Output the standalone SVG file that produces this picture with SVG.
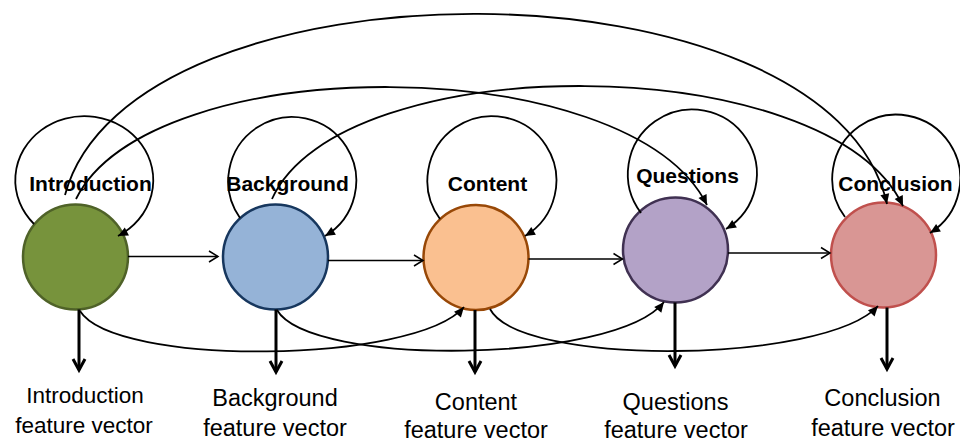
<svg xmlns="http://www.w3.org/2000/svg" width="960" height="443" viewBox="0 0 960 443">
<defs>
<style>
.node{stroke-width:2.5}
.lbl{font-family:"Liberation Sans",Arial,sans-serif;font-weight:bold;font-size:21px;text-anchor:middle;fill:#000}
.out{font-family:"Liberation Sans",Arial,sans-serif;font-size:23.5px;text-anchor:middle;fill:#000}
.c{fill:none;stroke:#000;stroke-width:1.8}
.h{fill:none;stroke:#000;stroke-width:1.5}
.v{fill:none;stroke:#000;stroke-width:3}
</style>
<marker id="tri" markerUnits="userSpaceOnUse" markerWidth="12" markerHeight="12" refX="10" refY="5" orient="auto" overflow="visible">
<path d="M0,0.5 L10,5 L0,9.5 z" fill="#000"/>
</marker>
<marker id="chev" markerUnits="userSpaceOnUse" markerWidth="14" markerHeight="14" refX="10" refY="6" orient="auto" overflow="visible">
<path d="M1,0.5 L10,6 L1,11.5" fill="none" stroke="#000" stroke-width="1.5"/>
</marker>
<marker id="chevT" markerUnits="userSpaceOnUse" markerWidth="16" markerHeight="16" refX="11" refY="7" orient="auto" overflow="visible">
<path d="M0,1 L11,7 L0,13" fill="none" stroke="#000" stroke-width="3"/>
</marker>
</defs>
<rect width="960" height="443" fill="#fff"/>

<g id="introduction">
<circle class="node" cx="75.5" cy="257" r="52.5" fill="#77933C" stroke="#4F6228"/>
<text class="lbl" x="90.5" y="191">Introduction</text>
</g>
<g id="background">
<circle class="node" cx="275.5" cy="257" r="52.5" fill="#95B3D7" stroke="#17375E"/>
<text class="lbl" x="287.5" y="191">Background</text>
</g>
<g id="content">
<circle class="node" cx="476" cy="257.5" r="52.5" fill="#FAC090" stroke="#984807"/>
<text class="lbl" x="487.5" y="191">Content</text>
</g>
<g id="questions">
<circle class="node" cx="675.5" cy="250" r="52.5" fill="#B3A2C7" stroke="#403152"/>
<text class="lbl" x="687.5" y="183">Questions</text>
</g>
<g id="conclusion">
<circle class="node" cx="883.5" cy="255" r="52.5" fill="#D99694" stroke="#C0504D"/>
<text class="lbl" x="895.5" y="191">Conclusion</text>
</g>

<g id="introduction-fv"><text class="out" x="85" y="403" style="font-size:22.5px">Introduction</text><text class="out" x="84" y="433" style="font-size:22.5px">feature vector</text></g>
<g id="background-fv"><text class="out" x="275" y="406">Background</text><text class="out" x="275" y="436">feature vector</text></g>
<g id="content-fv"><text class="out" x="476" y="410">Content</text><text class="out" x="476" y="437.5">feature vector</text></g>
<g id="questions-fv"><text class="out" x="675.5" y="410">Questions</text><text class="out" x="676" y="437.5">feature vector</text></g>
<g id="conclusion-fv"><text class="out" x="882.5" y="406">Conclusion</text><text class="out" x="883" y="436">feature vector</text></g>

<g id="connectors">
<!-- self loops -->
<path class="c" marker-end="url(#tri)" d="M34,224 A69,64 0 1 1 118,236"/>
<path class="c" marker-end="url(#tri)" d="M240,218 A64,64 0 1 1 325,236"/>
<path class="c" marker-end="url(#tri)" d="M440,219 A64.5,64.5 0 1 1 525,236"/>
<path class="c" marker-end="url(#tri)" d="M641,213 A64.5,64.5 0 1 1 726,229"/>
<path class="c" marker-end="url(#tri)" d="M845,217 A64,64 0 1 1 930,233"/>
<!-- sequential -->
<path class="h" marker-end="url(#chev)" d="M128,256.5 L218,256.5"/>
<path class="h" marker-end="url(#chev)" d="M328,260.5 L423,260.5"/>
<path class="h" marker-end="url(#chev)" d="M528.5,259 L622.5,259"/>
<path class="h" marker-end="url(#chev)" d="M728,253 L830,253"/>
<!-- top arcs -->
<path class="c" marker-end="url(#tri)" d="M65,195 C130,-48 830,-48 887,204"/>
<path class="c" marker-end="url(#tri)" d="M76,199 C150,48.7 629,48.7 707,205"/>
<path class="c" marker-end="url(#tri)" d="M272,199 C340,47.2 828,47.2 903,206"/>
<!-- bottom skip arcs -->
<path class="c" marker-end="url(#tri)" d="M80,311 C115,367 415,364 464,307"/>
<path class="c" marker-end="url(#tri)" d="M277,310 C310,367 615,364 664,302"/>
<path class="c" marker-end="url(#tri)" d="M490,309 C520,367 825,364 878,306"/>
<!-- outputs -->
<path class="v" marker-end="url(#chevT)" d="M79,309.5 L79,370"/>
<path class="v" marker-end="url(#chevT)" d="M276,309.5 L276,372"/>
<path class="v" marker-end="url(#chevT)" d="M475,310 L475,372"/>
<path class="v" marker-end="url(#chevT)" d="M675,302.5 L675,366"/>
<path class="v" marker-end="url(#chevT)" d="M887,307.5 L887,369"/>
</g>
</svg>
